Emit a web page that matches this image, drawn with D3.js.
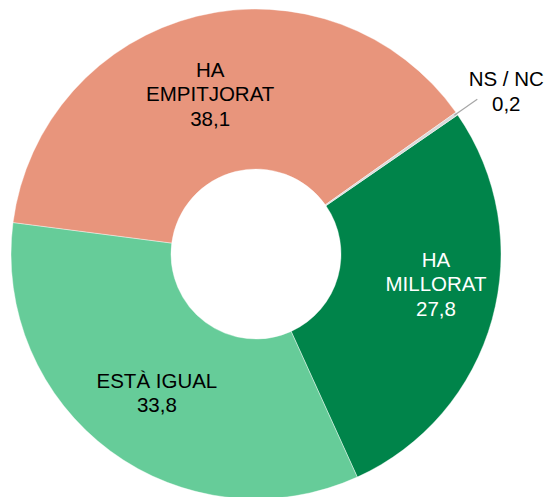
<!DOCTYPE html>
<html>
<head>
<meta charset="utf-8">
<script src="https://cdn.jsdelivr.net/npm/d3@7"></script>
<style>
  body { margin: 0; background: #fff; }
  text { font-family: "Liberation Sans", Arial, sans-serif; }
</style>
</head>
<body>
<svg id="chart"></svg>
<script>
// data
const categories = ["HA MILLORAT", "ESTÀ IGUAL", "HA EMPITJORAT", "NS / NC"];
const labelLines = [["HA", "MILLORAT"], ["ESTÀ IGUAL"], ["HA", "EMPITJORAT"], ["NS / NC"]];
const values = [27.8, 33.8, 38.1, 0.2];
const colors = ["#00844A", "#66CC99", "#E8957C", "#D9D9D9"];
const textColors = ["#fff", "#000", "#000", "#000"];

const width = 551, height = 497;
const cx = 256, cy = 254;
const outerR = 245, innerR = 85;
const fontSize = 20.5, lineH = 24.5, capH = 14.5;

const svg = d3.select("#chart")
  .attr("width", width)
  .attr("height", height);

const g = svg.append("g").attr("transform", `translate(${cx},${cy})`);

const start = 55.4 * Math.PI / 180;
const pie = d3.pie()
  .sort(null)
  .value(d => d)
  .startAngle(start)
  .endAngle(start + 2 * Math.PI);

const arcs = pie(values);

const arc = d3.arc().innerRadius(innerR).outerRadius(outerR);

g.selectAll("path.slice")
  .data(arcs)
  .enter()
  .append("path")
  .attr("class", "slice")
  .attr("d", arc)
  .attr("fill", (d, i) => colors[i])
  .attr("stroke", "#fff")
  .attr("stroke-width", 0.4);

// label nudges (the MILLORAT label was moved by hand in the original)
const nudge = [[21, -14], [-1, 6], [-6, 0], [0, 0]];

function addLabel(x, y, lines, fill) {
  const n = lines.length;
  const t = g.append("text")
    .attr("text-anchor", "middle")
    .attr("font-size", fontSize)
    .attr("fill", fill);
  const first = y - (n - 1) * lineH / 2 + capH / 2;
  lines.forEach((s, k) => {
    t.append("tspan").attr("x", x).attr("y", first + k * lineH).text(s);
  });
}

arcs.forEach((d, i) => {
  const fmt = values[i].toFixed(1).replace(".", ",");
  const lines = labelLines[i].concat([fmt]);
  if (values[i] < 2) {
    // outside label with leader line
    const a = (d.startAngle + d.endAngle) / 2;
    const p = r => [r * Math.sin(a), -r * Math.cos(a)];
    const p0 = p(outerR - 3), p1 = p(outerR + 25);
    g.append("line")
      .attr("x1", p0[0]).attr("y1", p0[1])
      .attr("x2", p1[0]).attr("y2", p1[1])
      .attr("stroke", "#A6A6A6")
      .attr("stroke-width", 1.2);
    addLabel(p1[0] + 29, p1[1] - 8, lines, textColors[i]);
  } else {
    const c = arc.centroid(d);
    addLabel(c[0] + nudge[i][0], c[1] + nudge[i][1], lines, textColors[i]);
  }
});
</script>
</body>
</html>
